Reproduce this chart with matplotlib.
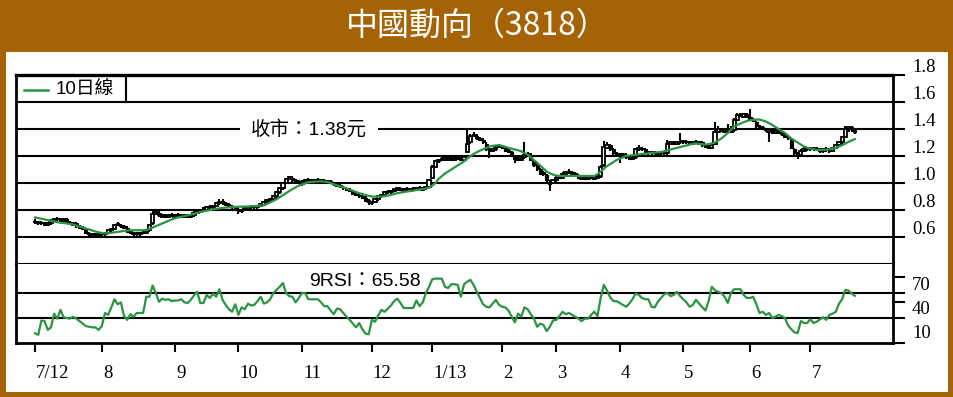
import matplotlib
matplotlib.use('Agg')
import matplotlib.pyplot as plt
import matplotlib.transforms as mtransforms
from matplotlib.patches import Rectangle
import numpy as np
import pandas as pd

# 中國動向(3818) 日線, 2012-07 ~ 2013-07
BROWN = '#a56305'
GREEN = '#2b9442'
W, H = 954, 397

hk_holidays = ['2012-10-01', '2012-10-02', '2012-10-23', '2012-12-25', '2012-12-26',
               '2013-01-01', '2013-02-11', '2013-02-12', '2013-02-13', '2013-03-29',
               '2013-04-01', '2013-04-04', '2013-05-01', '2013-05-17', '2013-06-12',
               '2013-07-01']

opens = [
    0.72, 0.70, 0.71, 0.70, 0.69, 0.70, 0.72, 0.74, 0.73, 0.72,
    0.73, 0.71, 0.69, 0.70, 0.68, 0.67, 0.66, 0.63, 0.61, 0.62,
    0.61, 0.63, 0.62, 0.63, 0.65, 0.66, 0.70, 0.69, 0.68, 0.67,
    0.64, 0.62, 0.63, 0.62, 0.64, 0.63, 0.65, 0.70, 0.77, 0.78,
    0.75, 0.76, 0.75, 0.77, 0.75, 0.77, 0.76, 0.75, 0.76, 0.75,
    0.76, 0.78, 0.79, 0.81, 0.80, 0.83, 0.82, 0.83, 0.85, 0.87,
    0.85, 0.84, 0.83, 0.82, 0.81, 0.79, 0.80, 0.81, 0.83, 0.82,
    0.82, 0.83, 0.84, 0.86, 0.87, 0.88, 0.90, 0.93, 0.96, 1.00,
    1.03, 1.04, 1.02, 1.01, 0.99, 1.01, 1.03, 1.02, 1.01, 1.03,
    1.01, 1.02, 1.00, 1.01, 1.00, 0.99, 0.98, 0.97, 0.96, 0.95,
    0.94, 0.92, 0.91, 0.90, 0.89, 0.87, 0.85, 0.86, 0.88, 0.90,
    0.91, 0.94, 0.93, 0.94, 0.95, 0.96, 0.94, 0.96, 0.94, 0.96,
    0.95, 0.97, 0.95, 0.96, 0.97, 1.04, 1.12, 1.16, 1.18, 1.17,
    1.17, 1.18, 1.17, 1.19, 1.18, 1.17, 1.23, 1.30, 1.36, 1.35,
    1.33, 1.32, 1.29, 1.25, 1.24, 1.25, 1.28, 1.27, 1.26, 1.24,
    1.23, 1.20, 1.18, 1.17, 1.19, 1.22, 1.21, 1.16, 1.13, 1.10,
    1.08, 1.06, 1.01, 1.00, 1.02, 1.05, 1.04, 1.07, 1.09, 1.08,
    1.07, 1.06, 1.03, 1.04, 1.03, 1.05, 1.03, 1.04, 1.05, 1.13,
    1.26, 1.28, 1.25, 1.22, 1.21, 1.20, 1.21, 1.19, 1.18, 1.19,
    1.25, 1.26, 1.25, 1.23, 1.22, 1.23, 1.21, 1.22, 1.23, 1.22,
    1.29, 1.30, 1.29, 1.31, 1.30, 1.31, 1.30, 1.29, 1.31, 1.29,
    1.30, 1.28, 1.27, 1.26, 1.29, 1.38, 1.40, 1.38, 1.39, 1.41,
    1.39, 1.47, 1.51, 1.49, 1.51, 1.49, 1.47, 1.45, 1.42, 1.41,
    1.40, 1.38, 1.39, 1.37, 1.38, 1.37, 1.36, 1.34, 1.32, 1.25,
    1.22, 1.21, 1.24, 1.25, 1.26, 1.25, 1.26, 1.25, 1.24, 1.26,
    1.25, 1.24, 1.26, 1.28, 1.30, 1.34, 1.40, 1.41, 1.40,
]

highs = [
    0.73, 0.72, 0.72, 0.71, 0.71, 0.73, 0.74, 0.75, 0.74, 0.74,
    0.74, 0.72, 0.71, 0.71, 0.69, 0.68, 0.67, 0.64, 0.63, 0.63,
    0.63, 0.64, 0.64, 0.66, 0.67, 0.70, 0.71, 0.70, 0.69, 0.68,
    0.65, 0.64, 0.64, 0.64, 0.65, 0.65, 0.70, 0.80, 0.79, 0.79,
    0.77, 0.77, 0.77, 0.78, 0.77, 0.78, 0.77, 0.77, 0.77, 0.77,
    0.79, 0.80, 0.81, 0.82, 0.83, 0.84, 0.84, 0.86, 0.885, 0.88,
    0.86, 0.85, 0.84, 0.83, 0.82, 0.81, 0.82, 0.83, 0.84, 0.84,
    0.84, 0.85, 0.87, 0.88, 0.89, 0.91, 0.94, 0.97, 1.01, 1.04,
    1.05, 1.05, 1.03, 1.02, 1.02, 1.03, 1.04, 1.03, 1.03, 1.04,
    1.03, 1.03, 1.02, 1.02, 1.01, 1.00, 0.99, 0.98, 0.97, 0.96,
    0.95, 0.93, 0.92, 0.91, 0.90, 0.88, 0.87, 0.89, 0.91, 0.92,
    0.94, 0.95, 0.95, 0.96, 0.97, 0.97, 0.96, 0.97, 0.96, 0.97,
    0.97, 0.98, 0.97, 0.98, 1.03, 1.13, 1.17, 1.18, 1.19, 1.19,
    1.19, 1.19, 1.19, 1.20, 1.19, 1.20, 1.40, 1.36, 1.38, 1.36,
    1.34, 1.33, 1.30, 1.26, 1.26, 1.28, 1.29, 1.28, 1.27, 1.25,
    1.24, 1.21, 1.19, 1.19, 1.30, 1.23, 1.22, 1.17, 1.14, 1.11,
    1.09, 1.07, 1.02, 1.03, 1.05, 1.06, 1.08, 1.09, 1.10, 1.09,
    1.08, 1.07, 1.05, 1.05, 1.05, 1.06, 1.05, 1.06, 1.13, 1.31,
    1.30, 1.29, 1.26, 1.23, 1.22, 1.22, 1.22, 1.20, 1.20, 1.26,
    1.28, 1.27, 1.26, 1.24, 1.24, 1.24, 1.23, 1.24, 1.24, 1.32,
    1.31, 1.31, 1.31, 1.37, 1.32, 1.32, 1.31, 1.31, 1.32, 1.31,
    1.31, 1.29, 1.28, 1.29, 1.45, 1.42, 1.41, 1.40, 1.44, 1.42,
    1.48, 1.52, 1.52, 1.52, 1.52, 1.55, 1.48, 1.46, 1.43, 1.42,
    1.41, 1.40, 1.40, 1.39, 1.39, 1.38, 1.37, 1.35, 1.33, 1.26,
    1.23, 1.25, 1.27, 1.27, 1.27, 1.27, 1.27, 1.26, 1.26, 1.27,
    1.26, 1.27, 1.29, 1.31, 1.35, 1.42, 1.42, 1.42, 1.41,
]

lows = [
    0.70, 0.69, 0.69, 0.68, 0.68, 0.69, 0.71, 0.72, 0.71, 0.71,
    0.70, 0.69, 0.68, 0.67, 0.66, 0.65, 0.62, 0.61, 0.60, 0.60,
    0.60, 0.61, 0.61, 0.62, 0.64, 0.65, 0.68, 0.67, 0.66, 0.63,
    0.62, 0.61, 0.61, 0.61, 0.62, 0.62, 0.64, 0.69, 0.76, 0.75,
    0.74, 0.74, 0.74, 0.75, 0.74, 0.75, 0.74, 0.74, 0.74, 0.74,
    0.75, 0.77, 0.78, 0.79, 0.79, 0.81, 0.81, 0.82, 0.84, 0.84,
    0.83, 0.82, 0.81, 0.80, 0.77, 0.78, 0.79, 0.80, 0.81, 0.81,
    0.81, 0.82, 0.83, 0.85, 0.86, 0.87, 0.89, 0.92, 0.95, 0.99,
    1.02, 1.01, 1.00, 0.99, 0.98, 1.00, 1.01, 1.00, 1.00, 1.01,
    1.00, 1.00, 0.99, 0.99, 0.98, 0.97, 0.96, 0.95, 0.94, 0.93,
    0.91, 0.90, 0.89, 0.88, 0.86, 0.835, 0.84, 0.85, 0.87, 0.89,
    0.90, 0.92, 0.92, 0.93, 0.94, 0.94, 0.93, 0.94, 0.93, 0.94,
    0.94, 0.95, 0.94, 0.95, 0.96, 1.03, 1.11, 1.15, 1.16, 1.16,
    1.16, 1.16, 1.16, 1.17, 1.16, 1.16, 1.22, 1.29, 1.34, 1.32,
    1.31, 1.29, 1.24, 1.185, 1.23, 1.24, 1.26, 1.25, 1.23, 1.22,
    1.19, 1.15, 1.16, 1.16, 1.18, 1.20, 1.16, 1.12, 1.09, 1.06,
    1.05, 1.00, 0.94, 0.99, 1.01, 1.03, 1.03, 1.06, 1.07, 1.06,
    1.05, 1.03, 1.02, 1.02, 1.02, 1.03, 1.02, 1.03, 1.04, 1.12,
    1.25, 1.24, 1.21, 1.20, 1.15, 1.19, 1.18, 1.17, 1.17, 1.18,
    1.24, 1.24, 1.22, 1.21, 1.21, 1.21, 1.20, 1.21, 1.21, 1.21,
    1.28, 1.28, 1.28, 1.29, 1.29, 1.29, 1.28, 1.28, 1.29, 1.28,
    1.27, 1.26, 1.25, 1.25, 1.28, 1.37, 1.38, 1.37, 1.38, 1.37,
    1.38, 1.46, 1.49, 1.48, 1.48, 1.46, 1.45, 1.41, 1.40, 1.39,
    1.38, 1.30, 1.36, 1.36, 1.36, 1.35, 1.33, 1.32, 1.25, 1.19,
    1.18, 1.20, 1.23, 1.24, 1.24, 1.24, 1.24, 1.22, 1.22, 1.23,
    1.22, 1.23, 1.25, 1.27, 1.29, 1.33, 1.38, 1.38, 1.36,
]

closes = [
    0.71, 0.71, 0.70, 0.69, 0.70, 0.72, 0.73, 0.73, 0.72, 0.73,
    0.71, 0.70, 0.70, 0.68, 0.67, 0.66, 0.63, 0.62, 0.62, 0.61,
    0.62, 0.62, 0.63, 0.65, 0.66, 0.69, 0.69, 0.68, 0.67, 0.64,
    0.63, 0.63, 0.62, 0.63, 0.63, 0.64, 0.69, 0.77, 0.78, 0.76,
    0.76, 0.75, 0.76, 0.76, 0.76, 0.76, 0.75, 0.76, 0.75, 0.76,
    0.78, 0.79, 0.80, 0.80, 0.82, 0.82, 0.83, 0.85, 0.86, 0.85,
    0.84, 0.83, 0.82, 0.81, 0.79, 0.80, 0.81, 0.82, 0.82, 0.83,
    0.83, 0.84, 0.86, 0.87, 0.88, 0.90, 0.93, 0.96, 1.00, 1.03,
    1.04, 1.02, 1.01, 1.00, 1.01, 1.02, 1.02, 1.01, 1.02, 1.02,
    1.02, 1.01, 1.01, 1.00, 0.99, 0.98, 0.97, 0.96, 0.95, 0.94,
    0.92, 0.91, 0.90, 0.89, 0.87, 0.86, 0.86, 0.88, 0.90, 0.91,
    0.93, 0.93, 0.94, 0.95, 0.96, 0.95, 0.95, 0.95, 0.95, 0.95,
    0.96, 0.96, 0.96, 0.97, 1.02, 1.12, 1.16, 1.17, 1.17, 1.18,
    1.18, 1.17, 1.18, 1.18, 1.17, 1.19, 1.29, 1.35, 1.35, 1.33,
    1.32, 1.30, 1.25, 1.24, 1.25, 1.27, 1.27, 1.26, 1.24, 1.23,
    1.20, 1.18, 1.17, 1.18, 1.21, 1.21, 1.17, 1.13, 1.10, 1.07,
    1.07, 1.02, 0.99, 1.02, 1.04, 1.04, 1.07, 1.08, 1.08, 1.07,
    1.06, 1.04, 1.04, 1.03, 1.04, 1.04, 1.04, 1.05, 1.12, 1.27,
    1.28, 1.25, 1.22, 1.21, 1.20, 1.21, 1.19, 1.18, 1.19, 1.25,
    1.26, 1.25, 1.23, 1.22, 1.23, 1.22, 1.22, 1.23, 1.22, 1.29,
    1.30, 1.29, 1.30, 1.30, 1.31, 1.30, 1.29, 1.30, 1.30, 1.30,
    1.28, 1.27, 1.26, 1.28, 1.38, 1.40, 1.39, 1.39, 1.40, 1.38,
    1.47, 1.50, 1.50, 1.51, 1.49, 1.47, 1.46, 1.42, 1.41, 1.40,
    1.39, 1.39, 1.37, 1.38, 1.37, 1.36, 1.34, 1.33, 1.26, 1.22,
    1.21, 1.24, 1.25, 1.26, 1.25, 1.26, 1.25, 1.24, 1.25, 1.25,
    1.24, 1.26, 1.28, 1.30, 1.34, 1.40, 1.41, 1.40, 1.38,
]

ma10 = [
    0.745, 0.740, 0.735, 0.730, 0.725, 0.720, 0.715, 0.710, 0.706, 0.703,
    0.700, 0.697, 0.693, 0.685, 0.678, 0.670, 0.663, 0.656, 0.648, 0.641,
    0.635, 0.630, 0.627, 0.628, 0.631, 0.635, 0.638, 0.642, 0.645, 0.648,
    0.649, 0.650, 0.650, 0.650, 0.650, 0.653, 0.660, 0.670, 0.680, 0.690,
    0.700, 0.710, 0.720, 0.730, 0.738, 0.745, 0.750, 0.755, 0.760, 0.766,
    0.772, 0.778, 0.784, 0.790, 0.795, 0.800, 0.804, 0.808, 0.812, 0.815,
    0.818, 0.820, 0.822, 0.823, 0.824, 0.825, 0.825, 0.826, 0.827, 0.829,
    0.831, 0.833, 0.835, 0.845, 0.857, 0.868, 0.880, 0.895, 0.910, 0.925,
    0.940, 0.955, 0.968, 0.980, 0.990, 0.998, 1.005, 1.008, 1.010, 1.012,
    1.012, 1.010, 1.006, 1.000, 0.990, 0.983, 0.976, 0.968, 0.960, 0.951,
    0.943, 0.934, 0.925, 0.918, 0.911, 0.905, 0.900, 0.899, 0.900, 0.900,
    0.902, 0.907, 0.912, 0.918, 0.925, 0.929, 0.933, 0.937, 0.940, 0.944,
    0.948, 0.952, 0.955, 0.960, 0.965, 0.980, 1.000, 1.030, 1.050, 1.070,
    1.085, 1.100, 1.115, 1.130, 1.145, 1.160, 1.180, 1.200, 1.215, 1.228,
    1.240, 1.250, 1.260, 1.270, 1.275, 1.278, 1.280, 1.275, 1.268, 1.260,
    1.254, 1.248, 1.242, 1.235, 1.222, 1.210, 1.190, 1.170, 1.150, 1.128,
    1.106, 1.085, 1.072, 1.062, 1.055, 1.053, 1.052, 1.052, 1.052, 1.052,
    1.052, 1.052, 1.052, 1.052, 1.052, 1.052, 1.052, 1.065, 1.085, 1.105,
    1.125, 1.140, 1.155, 1.170, 1.180, 1.190, 1.200, 1.203, 1.206, 1.209,
    1.212, 1.215, 1.217, 1.220, 1.222, 1.225, 1.228, 1.230, 1.235, 1.242,
    1.248, 1.254, 1.260, 1.266, 1.272, 1.278, 1.285, 1.290, 1.293, 1.290,
    1.287, 1.285, 1.288, 1.293, 1.300, 1.315, 1.330, 1.350, 1.370, 1.395,
    1.420, 1.430, 1.440, 1.450, 1.460, 1.465, 1.468, 1.470, 1.470, 1.463,
    1.455, 1.443, 1.430, 1.415, 1.400, 1.385, 1.370, 1.350, 1.330, 1.315,
    1.300, 1.285, 1.270, 1.262, 1.255, 1.250, 1.245, 1.245, 1.245, 1.247,
    1.250, 1.255, 1.260, 1.270, 1.280, 1.292, 1.305, 1.315, 1.325,
]

rsi9 = [
    5.5, 3, 26, 25, 11, 15, 37, 29, 43, 31,
    30, 29, 32, 29, 25, 21, 17, 16, 15, 15,
    11, 17, 38, 35, 47, 60, 52, 55, 33, 27,
    36, 32, 38, 38, 38, 64, 64, 82, 70, 56,
    61, 59, 60, 57, 58, 58, 60, 55, 54, 59,
    66, 72, 54, 54, 67, 62, 69, 64, 76, 59,
    51, 44, 40, 52, 35, 47, 44, 53, 50, 51,
    57, 64, 53, 55, 60, 70, 75, 80, 86, 70,
    65, 64, 55, 62, 70, 70, 60, 60, 60, 60,
    55, 49, 49, 42, 36, 45, 44, 38, 32, 27,
    21, 15, 22, 12, 5, 4, 27, 24, 34, 43,
    40, 45, 50, 57, 61, 54, 46, 46, 46, 46,
    58, 49, 55, 70, 80, 92, 93, 93, 93, 80,
    78, 84, 84, 83, 64, 84, 88, 91, 83, 72,
    62, 52, 48, 47, 53, 59, 51, 48, 47, 42,
    32, 23, 37, 32, 47, 44, 36, 29, 16, 21,
    19, 9, 16, 26, 27, 33, 40, 36, 38, 35,
    32, 29, 25, 29, 29, 35, 40, 33, 62, 83,
    74, 63, 57, 57, 54, 51, 48, 53, 60, 69,
    67, 62, 60, 60, 48, 47, 56, 62, 68, 70,
    65, 67, 72, 65, 60, 55, 48, 51, 59, 53,
    47, 42, 58, 80, 74, 72, 70, 64, 54, 70,
    76, 76, 76, 67, 62, 62, 64, 52, 38, 40,
    35, 38, 30, 32, 35, 33, 30, 18, 12, 7,
    6, 25, 22, 22, 28, 22, 24, 28, 31, 27,
    35, 37, 40, 53, 60, 75, 74, 69, 65.58,
]

price_ticks = [0.6, 0.8, 1.0, 1.2, 1.4, 1.6, 1.8]
rsi_lines = [70, 30]
rsi_tick_marks = [95.6, 70, 55.6, 30, -10]
rsi_label_pos = [81.2, 42.8, 4.4]
rsi_labels = ['70', '40', '10']

# 交易日 (港股假期除外)
dates = pd.bdate_range('2012-07-03', '2013-07-22')
dates = dates[~dates.isin(pd.to_datetime(hk_holidays))]

o = np.array(opens)
h = np.array(highs)
l = np.array(lows)
c = np.array(closes)
x = np.arange(len(c))

fig = plt.figure(figsize=(W / 100, H / 100), dpi=100)
fig.patch.set_facecolor(BROWN)
fig.add_artist(Rectangle((6 / W, 1 - 392 / H), 942 / W, 340 / H, transform=fig.transFigure,
                         facecolor='white', edgecolor='none', zorder=0))
fig.text(0.5, 1 - 26 / H, '中國動向（3818）', color='white', fontsize=23,
         family=['Noto Sans CJK TC', 'DejaVu Sans'], ha='center', va='center')

ax = fig.add_axes([16 / W, 1 - 264 / H, 877 / W, 189 / H])
ax2 = fig.add_axes([16 / W, 1 - 343 / H, 877 / W, 79 / H], sharex=ax)

serif = ['Liberation Serif', 'DejaVu Serif']
sans = ['Liberation Sans', 'Noto Sans CJK TC', 'DejaVu Sans']

# 價格圖
for v in price_ticks[:-1]:
    ax.axhline(v, color='black', lw=1.5, zorder=1)
ax.vlines(x, l, h, color='black', lw=1.5, zorder=3)
up = c >= o
bottom = np.minimum(o, c)
height = np.maximum(np.abs(c - o), 0.012)
ax.bar(x[up], height[up], 1.0, bottom=bottom[up], facecolor='white', edgecolor='black',
       lw=1.3, zorder=4)
ax.bar(x[~up], height[~up], 1.0, bottom=bottom[~up], color='black', edgecolor='black',
       lw=0.8, zorder=4)
ax.plot(np.arange(len(ma10)), ma10, color=GREEN, lw=1.6, zorder=5)

ax.set_xlim(-6, 270)
ax.set_ylim(0.4, 1.8)
ax.set_yticks(price_ticks)
ax.set_yticklabels([])
ax.yaxis.tick_right()
ax.tick_params(axis='y', direction='out', length=8.6, width=1.5, right=True, left=False)
ax.tick_params(axis='x', bottom=False, labelbottom=False)

yt = mtransforms.blended_transform_factory(ax.transAxes, ax.transData)
up_off = mtransforms.ScaledTranslation(0, 0.07, fig.dpi_scale_trans)
for v in price_ticks:
    ax.text((912 - 16) / 877, v, f'{v:.1f}', transform=yt + up_off, ha='left', va='center',
            fontsize=13.5, family=serif)

# 圖例
ax.plot([(126 - 16) / 877] * 2, [1.6, 1.8], transform=yt, color='black', lw=1.5, zorder=2)
ax.plot([8 / 877, 32 / 877], [1.69, 1.69], transform=yt, color=GREEN, lw=1.8)
ax.text(40 / 877, 1.69, '10日線', transform=yt, ha='left', va='center', fontsize=13.5,
        family=sans)

ax.text((309 - 16) / 877, 1.4, '收市：1.38元', transform=yt, ha='center', va='center',
        fontsize=14, family=sans, zorder=6,
        bbox=dict(boxstyle='square,pad=0.55', fc='white', ec='none'))

for s in ['left', 'right']:
    ax.spines[s].set_linewidth(2)
ax.spines['top'].set_linewidth(2.4)
ax.spines['bottom'].set_linewidth(1.5)

# RSI
for v in rsi_lines:
    ax2.axhline(v, color='black', lw=1.5, zorder=1)
ax2.plot(np.arange(len(rsi9)), rsi9, color=GREEN, lw=1.6, zorder=5)
ax2.set_ylim(-10, 116.4)
ax2.yaxis.tick_right()
ax2.set_yticks(rsi_tick_marks)
ax2.set_yticklabels([])
ax2.tick_params(axis='y', direction='out', length=8.6, width=1.5, right=True, left=False)
yt2 = mtransforms.blended_transform_factory(ax2.transAxes, ax2.transData)
for v, s in zip(rsi_label_pos, rsi_labels):
    ax2.text((912 - 16) / 877, v, s, transform=yt2, ha='left', va='center', fontsize=13.5,
             family=serif)
ax2.text((365 - 16) / 877, 87.6, '9RSI：65.58', transform=yt2, ha='center', va='center',
         fontsize=14, family=sans, zorder=6)

# 月份
month_pos = [0] + [i for i in range(1, len(dates)) if dates[i].month != dates[i - 1].month]
month_lab = []
for k, i in enumerate(month_pos):
    d = dates[i]
    if k == 0 or d.month == 1:
        month_lab.append(f'{d.month}/{d.strftime("%y")}')
    else:
        month_lab.append(str(d.month))
ax2.set_xticks(month_pos)
ax2.set_xticklabels([])
ax2.tick_params(axis='x', direction='out', length=6.5, width=1.5)
xt = mtransforms.blended_transform_factory(ax2.transData, ax2.transAxes)
down_off = mtransforms.ScaledTranslation(0.01, -0.30, fig.dpi_scale_trans)
for i, s in zip(month_pos, month_lab):
    ax2.text(i, 0, s, transform=xt + down_off, ha='left', va='center', fontsize=13.5,
             family=serif)

ax2.spines['top'].set_visible(False)
for s in ['left', 'right', 'bottom']:
    ax2.spines[s].set_linewidth(2)

fig.savefig('out.png', dpi=100, facecolor=BROWN)
